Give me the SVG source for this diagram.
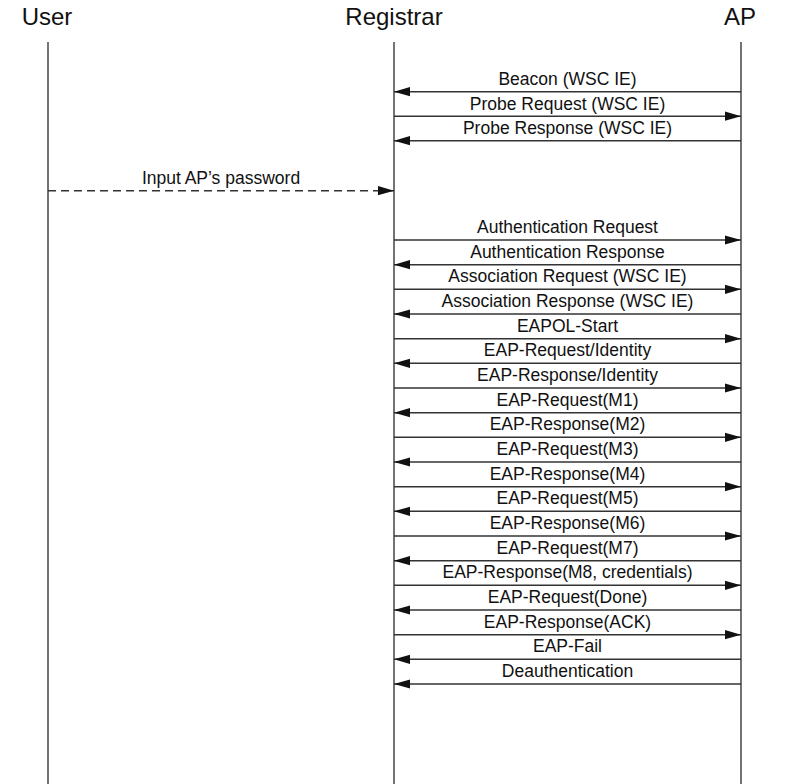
<svg xmlns="http://www.w3.org/2000/svg" width="791" height="784" viewBox="0 0 791 784">
<style>
.hdr{font-family:"Liberation Sans",Arial,sans-serif;font-size:24px;fill:#111;text-anchor:middle}
.lbl{font-family:"Liberation Sans",Arial,sans-serif;font-size:17.5px;fill:#111;text-anchor:middle}
.life{stroke:#444;stroke-width:1.5;fill:none}
.msg{stroke:#333;stroke-width:1.4;fill:none;marker-end:url(#ah)}
.dash{stroke:#333;stroke-width:1.4;fill:none;stroke-dasharray:8 5;marker-end:url(#ah)}
</style>
<defs>
<marker id="ah" markerUnits="userSpaceOnUse" markerWidth="17" markerHeight="10" refX="16" refY="5" orient="auto">
<path d="M0,0.4 L16,5 L0,9.6 Z" fill="#111"/>
</marker>
</defs>
<rect width="791" height="784" fill="#fff"/>
<g id="user"><text class="hdr" x="47" y="25">User</text><line class="life" x1="48" y1="42" x2="48" y2="784"/></g>
<g id="registrar"><text class="hdr" x="394" y="25">Registrar</text><line class="life" x1="394" y1="42" x2="394" y2="784"/></g>
<g id="ap"><text class="hdr" x="740" y="25">AP</text><line class="life" x1="741" y1="42" x2="741" y2="784"/></g>
<g id="connectors">
<line class="msg" x1="741" y1="91.7" x2="394" y2="91.7"/>
<line class="msg" x1="394" y1="116.2" x2="741" y2="116.2"/>
<line class="msg" x1="741" y1="140.7" x2="394" y2="140.7"/>
<line class="dash" x1="48" y1="190.7" x2="394" y2="190.7"/>
<line class="msg" x1="394" y1="240" x2="741" y2="240"/>
<line class="msg" x1="741" y1="264.7" x2="394" y2="264.7"/>
<line class="msg" x1="394" y1="289.3" x2="741" y2="289.3"/>
<line class="msg" x1="741" y1="314" x2="394" y2="314"/>
<line class="msg" x1="394" y1="338.7" x2="741" y2="338.7"/>
<line class="msg" x1="741" y1="363.3" x2="394" y2="363.3"/>
<line class="msg" x1="394" y1="388" x2="741" y2="388"/>
<line class="msg" x1="741" y1="412.7" x2="394" y2="412.7"/>
<line class="msg" x1="394" y1="437.3" x2="741" y2="437.3"/>
<line class="msg" x1="741" y1="462" x2="394" y2="462"/>
<line class="msg" x1="394" y1="486.7" x2="741" y2="486.7"/>
<line class="msg" x1="741" y1="511.3" x2="394" y2="511.3"/>
<line class="msg" x1="394" y1="536" x2="741" y2="536"/>
<line class="msg" x1="741" y1="560.7" x2="394" y2="560.7"/>
<line class="msg" x1="394" y1="585.3" x2="741" y2="585.3"/>
<line class="msg" x1="741" y1="610" x2="394" y2="610"/>
<line class="msg" x1="394" y1="634.7" x2="741" y2="634.7"/>
<line class="msg" x1="741" y1="659.3" x2="394" y2="659.3"/>
<line class="msg" x1="741" y1="684" x2="394" y2="684"/>
</g>
<g id="labels">
<text class="lbl" x="567.5" y="85">Beacon (WSC IE)</text>
<text class="lbl" x="567.5" y="109.5">Probe Request (WSC IE)</text>
<text class="lbl" x="567.5" y="134">Probe Response (WSC IE)</text>
<text class="lbl" x="221" y="184">Input AP’s password</text>
<text class="lbl" x="567.5" y="233">Authentication Request</text>
<text class="lbl" x="567.5" y="257.7">Authentication Response</text>
<text class="lbl" x="567.5" y="282.3">Association Request (WSC IE)</text>
<text class="lbl" x="567.5" y="307">Association Response (WSC IE)</text>
<text class="lbl" x="567.5" y="331.7">EAPOL-Start</text>
<text class="lbl" x="567.5" y="356.3">EAP-Request/Identity</text>
<text class="lbl" x="567.5" y="381">EAP-Response/Identity</text>
<text class="lbl" x="567.5" y="405.7">EAP-Request(M1)</text>
<text class="lbl" x="567.5" y="430.3">EAP-Response(M2)</text>
<text class="lbl" x="567.5" y="455">EAP-Request(M3)</text>
<text class="lbl" x="567.5" y="479.7">EAP-Response(M4)</text>
<text class="lbl" x="567.5" y="504.3">EAP-Request(M5)</text>
<text class="lbl" x="567.5" y="529">EAP-Response(M6)</text>
<text class="lbl" x="567.5" y="553.7">EAP-Request(M7)</text>
<text class="lbl" x="567.5" y="578.3">EAP-Response(M8, credentials)</text>
<text class="lbl" x="567.5" y="603">EAP-Request(Done)</text>
<text class="lbl" x="567.5" y="627.7">EAP-Response(ACK)</text>
<text class="lbl" x="567.5" y="652.3">EAP-Fail</text>
<text class="lbl" x="567.5" y="677">Deauthentication</text>
</g>
</svg>
